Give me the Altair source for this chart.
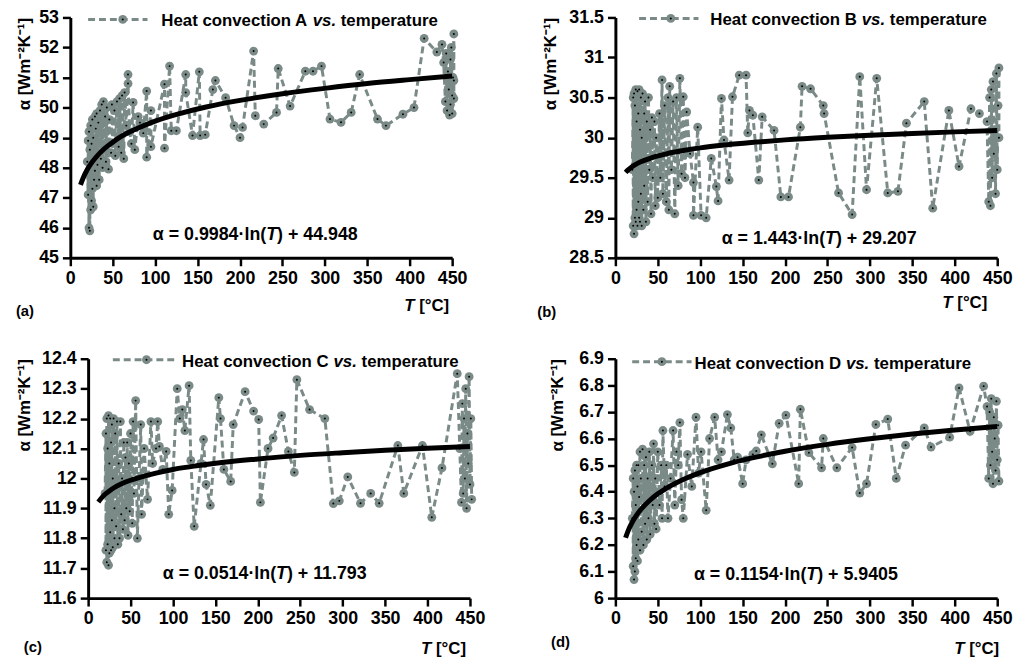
import altair as alt
import pandas as pd

FONT = "Liberation Sans"
GRAY = "#7a8a87"

XTICKS = [0, 50, 100, 150, 200, 250, 300, 350, 400, 450]

# ---------------- panel (a) ----------------
TA = [20,21,21,22,22,23,23,24,24,25,25,26,26,27,27,28,29,29,30,31,31,32,33,34,35,36,37,38,39,40,
      41,42,43,45,46,48,49,50,52,53,55,57,58,60,61,63,64,66,68,68,70,72,74,76,80,82,86,90,90,95,
      95,111,111,117,119,125,136,136,144,152,153,159,168,171,183,193,200,203,216,218,228,243,245,259,277,286,296,306,319,331,
      341,362,372,392,405,417,432,438,440,442,443,444,445,446,447,448,448,449,450,450,451,452,452,452]
AA = [48.2,47.1,48.9,46.0,49.2,45.9,48.6,46.6,49.4,46.9,48.8,47.3,49.6,46.7,49.0,47.6,49.7,47.9,49.3,47.4,
      49.8,48.1,49.5,47.6,49.9,48.3,50.1,48.0,50.2,48.6,49.7,48.2,50.0,47.95,49.6,48.5,50.1,48.8,49.9,48.4,
      50.2,48.7,50.3,48.5,50.4,48.3,50.5,49.4,51.1,50.8,49.2,48.8,50.17,48.6,49.7,49.5,49.15,50.55,48.35,49.9,
      48.7,50.78,48.65,51.38,49.23,49.23,51.1,50.5,49.07,51.19,49.07,49.1,50.6,50.9,50.33,49.4,49.0,49.34,51.88,49.73,
      49.45,49.84,51.3,50.05,51.21,51.21,51.38,49.62,49.51,49.84,51.1,49.62,49.4,49.78,50.0,52.3,51.85,52.1,51.5,50.2,
      51.8,49.9,51.2,50.6,49.75,51.6,50.1,52.0,50.4,49.8,51.0,52.45,50.3,50.9]

# ---------------- panel (b) ----------------
TB = [20,21,21,22,22,23,23,24,24,25,25,26,26,27,27,28,28,29,29,30,30,31,31,32,33,34,34,35,36,37,
      38,39,40,41,42,43,44,46,47,48,50,52,53,55,56,58,60,62,63,64,66,68,70,72,74,76,78,80,82,84,
      88,92,92,97,101,107,113,119,121,125,128,134,138,146,154,156,158,162,169,173,187,195,204,218,220,230,245,246,263,279,
      288,296,308,321,333,343,364,374,393,405,419,429,438,440,441,442,443,444,445,446,447,448,449,450,451,452,452]
AB = [29.6,30.5,28.9,30.55,28.8,30.4,29.0,30.6,28.95,30.2,29.1,30.58,28.9,30.3,29.2,30.6,29.0,30.1,28.95,30.5,
      29.3,30.0,28.9,30.55,29.1,30.3,29.4,30.45,28.95,30.2,29.2,30.5,29.6,30.1,29.05,30.25,29.5,30.2,29.15,30.0,
      29.25,30.3,29.5,30.72,29.3,30.4,29.2,30.5,29.1,30.64,29.6,30.45,29.05,30.5,29.4,30.74,29.55,30.51,29.5,30.32,
      29.8,29.44,29.03,30.13,29.03,29.0,29.74,29.39,29.21,30.49,29.97,29.47,30.51,30.78,30.78,30.06,30.34,30.28,29.47,30.26,
      30.09,29.26,29.26,30.13,30.64,30.61,30.40,30.30,29.31,29.04,30.76,29.35,30.74,29.31,29.33,30.18,30.45,29.12,30.34,29.64,
      30.36,30.30,30.2,29.2,30.5,29.15,30.6,29.5,30.7,29.8,30.1,29.3,30.8,29.6,30.4,30.87,30.0]

# ---------------- panel (c) ----------------
TC = [20,21,21,22,22,23,23,24,24,25,25,26,26,27,27,28,28,29,29,30,31,31,32,33,34,35,36,37,38,39,
      40,41,42,43,44,45,46,47,48,49,50,52,53,54,56,58,60,62,63,66,70,74,76,80,82,84,88,92,95,99,
      105,108,111,114,119,121,125,133,136,139,144,154,156,160,168,171,185,195,201,203,212,218,228,236,243,246,261,279,289,296,
      306,321,333,343,365,372,394,405,417,435,438,440,441,442,443,444,445,446,447,448,449,450,451,452]
AC = [11.95,12.15,11.76,12.2,11.72,12.1,11.78,12.21,11.71,12.05,11.75,12.2,11.82,12.12,11.76,12.18,11.86,12.0,11.77,12.2,
      11.9,11.8,12.15,11.84,12.19,11.78,12.05,11.8,12.19,11.88,12.0,11.83,12.12,11.86,12.07,11.9,12.12,11.81,12.05,11.89,
      12.15,11.85,12.19,11.95,12.26,11.80,12.0,12.18,11.88,12.1,11.93,12.19,12.05,12.1,12.19,12.107,12.03,12.09,11.88,11.96,
      12.30,12.2,12.23,12.16,12.31,12.06,11.84,12.05,12.13,11.98,11.91,12.27,12.20,12.03,11.99,12.18,12.29,12.225,12.197,11.92,
      12.10,12.135,12.21,12.09,12.02,12.33,12.23,12.20,11.916,11.925,12.005,11.917,11.95,11.917,12.11,11.95,12.11,11.87,12.035,12.35,
      12.1,11.92,12.25,11.95,12.2,12.0,12.3,11.9,12.15,12.05,12.34,11.98,12.2,11.93]

# ---------------- panel (d) ----------------
TD = [20,21,21,22,22,23,23,24,24,25,25,26,26,27,27,28,29,29,30,31,32,33,34,35,36,37,38,39,40,41,
      43,44,45,46,47,48,50,52,54,55,56,58,60,62,65,68,70,72,74,76,78,80,85,90,95,98,101,107,111,117,
      121,125,132,136,140,144,150,154,162,166,172,185,193,201,216,218,228,243,245,261,279,288,296,307,321,331,342,364,372,394,
      405,418,434,438,440,441,442,443,444,445,446,447,448,449,450,451,452]
AD = [6.3,6.45,6.12,6.4,6.07,6.48,6.1,6.35,6.15,6.5,6.2,6.42,6.14,6.5,6.22,6.38,6.55,6.18,6.45,6.25,
      6.56,6.2,6.5,6.28,6.53,6.22,6.45,6.3,6.55,6.24,6.5,6.35,6.58,6.28,6.45,6.26,6.55,6.35,6.5,6.3,
      6.63,6.42,6.5,6.3,6.45,6.63,6.35,6.55,6.5,6.66,6.37,6.3,6.54,6.42,6.68,6.47,6.55,6.33,6.60,6.68,
      6.52,6.55,6.69,6.64,6.52,6.53,6.43,6.52,6.54,6.553,6.614,6.505,6.657,6.688,6.43,6.71,6.547,6.49,6.60,6.49,
      6.566,6.395,6.43,6.653,6.673,6.45,6.575,6.64,6.568,6.605,6.79,6.627,6.797,6.72,6.45,6.7,6.5,6.75,6.55,6.43,
      6.68,6.6,6.48,6.74,6.52,6.65,6.44]

# ---------------- trend lines ----------------
TT = [12, 15, 20, 25, 30, 40, 50, 60, 80, 100, 130, 160, 200, 250, 300, 350, 400, 450]
TRA = [47.43,47.65,47.94,48.16,48.34,48.63,48.85,49.04,49.32,49.55,49.81,50.02,50.24,50.46,50.64,50.80,50.93,51.05]
TRB = [29.566,29.598,29.639,29.672,29.698,29.739,29.772,29.798,29.839,29.872,29.909,29.939,29.972,30.004,30.030,30.052,30.072,30.089]
TRC = [11.921,11.932,11.947,11.958,11.968,11.983,11.994,12.003,12.018,12.030,12.043,12.054,12.065,12.077,12.086,12.094,12.101,12.107]
TRD = [6.227,6.253,6.286,6.312,6.333,6.366,6.392,6.413,6.446,6.472,6.502,6.526,6.552,6.578,6.599,6.617,6.632,6.645]

YT_A = [45, 46, 47, 48, 49, 50, 51, 52, 53]
YT_B = [28.5, 29, 29.5, 30, 30.5, 31, 31.5]
YT_C = [11.6, 11.7, 11.8, 11.9, 12.0, 12.1, 12.2, 12.3, 12.4]
YT_D = [6.0, 6.1, 6.2, 6.3, 6.4, 6.5, 6.6, 6.7, 6.8, 6.9]

one = pd.DataFrame({"k": [0]})
FS = 17
MSIZE = 80


def txt(s, x, y, size=FS, align="left", italic=False):
    return alt.Chart(one).mark_text(
        text=s, font=FONT, fontSize=size, fontWeight="bold",
        fontStyle="italic" if italic else "normal", align=align,
        baseline="middle", color="black",
    ).encode(x=alt.value(x), y=alt.value(y))


def panel(T, A, TR, ydom, yticks, letter, coef, const, tp, H, L, shift=0):
    W = 386 + shift
    df = pd.DataFrame({"T": T, "a": A, "i": list(range(len(T)))})
    tdf = pd.DataFrame({"T": TT, "a": TR})
    xscale = alt.Scale(domain=[0, 450], nice=False, zero=False, range=[shift, W])
    xenc = alt.X("T:Q", scale=xscale,
                 axis=alt.Axis(values=XTICKS, title=None, labelFlush=False, labelOverlap=False, labelPadding=4))
    yenc = alt.Y("a:Q", scale=alt.Scale(domain=ydom, nice=False, zero=False),
                 axis=alt.Axis(values=yticks, format=".1~f", title="α [Wm⁻²K⁻¹]",
                               titleAnchor="end", titlePadding=tp, minExtent=25, maxExtent=25,
                               labelOverlap=False, offset=-shift))
    base = alt.Chart(df).encode(x=xenc, y=yenc, order=alt.Order("i:Q"))
    line = base.mark_line(color=GRAY, strokeDash=[7, 4], strokeWidth=3)
    pts = base.mark_circle(color=GRAY, size=MSIZE, opacity=1)
    dots = base.mark_circle(color="black", size=4, opacity=1)
    trend = alt.Chart(tdf).mark_line(color="black", strokeWidth=5, interpolate="monotone").encode(x=xenc, y=yenc)

    s = shift
    lx1, lx2, ly, ld, tx = L["leg"]
    leg_line = alt.Chart(one).mark_rule(color=GRAY, strokeDash=[7, 4], strokeWidth=3).encode(
        x=alt.value(lx1 + s), x2=alt.value(lx2 + s), y=alt.value(ly))
    leg_pt = alt.Chart(one).mark_circle(color=GRAY, size=MSIZE, opacity=1).encode(x=alt.value(ld + s), y=alt.value(ly))
    leg_dot = alt.Chart(one).mark_circle(color="black", size=4, opacity=1).encode(x=alt.value(ld + s), y=alt.value(ly))
    ty = ly + 2
    tx = tx + s
    leg_t1 = txt("Heat convection " + letter, tx, ty)
    leg_t2 = txt("vs.", tx + 9.002 * FS, ty, italic=True)
    leg_t3 = txt("temperature", tx + 10.67 * FS, ty)

    ex, ey = L["eq"]
    ex = ex + s
    EFS = 18
    eq1 = txt("α = " + coef + "·ln(", ex, ey, size=EFS, align="right")
    eq2 = txt("T", ex, ey, size=EFS, italic=True)
    eq3 = txt(") + " + const, ex + 0.611 * EFS, ey, size=EFS)

    xr, xy = L["xt"]
    xr = xr + s
    xt1 = txt("[°C]", xr, xy, align="right")
    xt2 = txt("T", xr - 2.066 * FS, xy, align="right", italic=True)

    px, py = L["lab"]
    lab = txt("(" + letter.lower() + ")", px + s, py, size=15)

    return alt.layer(line, pts, dots, trend, leg_line, leg_pt, leg_dot, leg_t1, leg_t2, leg_t3,
                     eq1, eq2, eq3, xt1, xt2, lab).properties(width=W, height=H)


pA = panel(TA, AA, TRA, [45, 53], YT_A, "A", "0.9984", "44.948", 12, 243,
           {"leg": (18, 78, 2, 53, 92), "eq": (198, 220), "xt": (383, 292), "lab": (-55, 297)})
pB = panel(TB, AB, TRB, [28.5, 31.5], YT_B, "B", "1.443", "29.207", 32, 243,
           {"leg": (24, 84, 1, 56, 96), "eq": (212, 224), "xt": (376, 289), "lab": (-79, 298)})
pC = panel(TC, AC, TRC, [11.6, 12.4], YT_C, "C", "0.0514", "11.793", 30, 242,
           {"leg": (25, 87, 1, 59, 95), "eq": (190, 218), "xt": (382, 293), "lab": (-65, 291)}, shift=18)
pD = panel(TD, AD, TRD, [6.0, 6.9], YT_D, "D", "0.1154", "5.9405", 24, 242,
           {"leg": (17, 77, 3, 47, 80), "eq": (193, 219), "xt": (388, 293), "lab": (-65, 286)})

chart = alt.concat(pA, pB, pC, pD, columns=2, spacing={"row": 102, "column": 147}, bounds="flush").properties(
    padding={"left": 7, "top": -3, "right": 5, "bottom": 0}
).configure_view(stroke=None).configure_axis(
    domainColor="black", domainWidth=3, tickColor="black", tickWidth=2.5, tickSize=8,
    labelFont=FONT, labelFontSize=18, labelFontWeight="bold", labelColor="black",
    titleFont=FONT, titleFontSize=17, titleFontWeight="bold", titleColor="black",
    grid=False, labelPadding=3,
).configure_axisY(labelPadding=4)

chart.save("out.html", embed_options={"renderer": "svg", "actions": False})
